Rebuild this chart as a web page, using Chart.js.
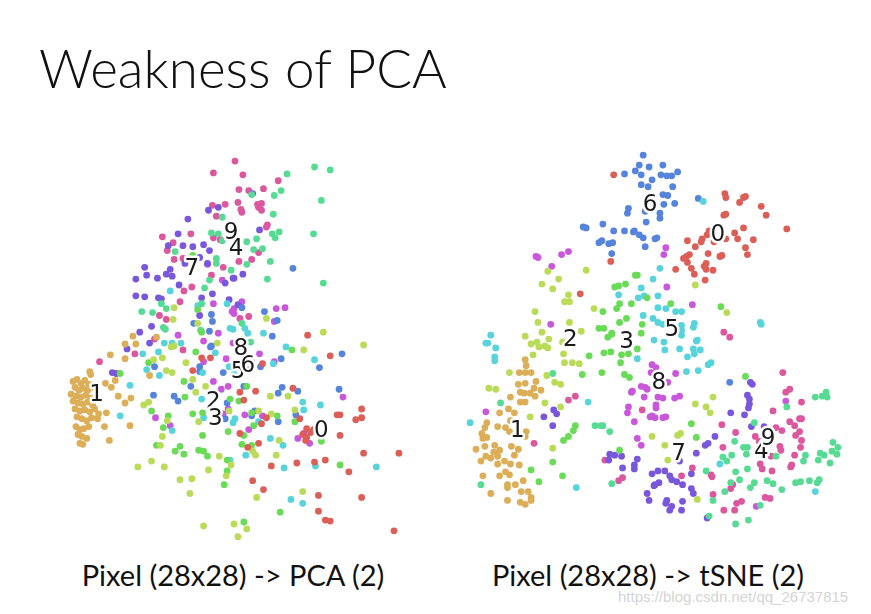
<!DOCTYPE html>
<html>
<head>
<meta charset="utf-8">
<script src="https://cdn.jsdelivr.net/npm/chart.js@4.4.1/dist/chart.umd.min.js"></script>
<style>
  body { margin: 0; background: #fff; width: 871px; height: 614px; overflow: hidden; position: relative; }
  .txt { position: absolute; white-space: nowrap; line-height: 1; color: #111; font-family: Lato, "Open Sans", sans-serif; }
  #title { left: 39px; top: 41px; font-size: 53px; font-weight: 300; }
  .caption { top: 560px; font-size: 29px; width: 400px; text-align: center; }
  #capLeft { left: 33px; }
  #capRight { left: 448px; }
  #mark { left: 618px; top: 589px; font-family: "Liberation Sans", Arial, sans-serif; font-size: 15px; color: #d4d4d4; }
  canvas { position: absolute; }
  #pcaChart { left: 50px; top: 140px; }
  #tsneChart { left: 450px; top: 140px; }
</style>
</head>
<body>
<div class="txt" id="title">Weakness of PCA</div>
<canvas id="pcaChart" width="370" height="410"></canvas>
<canvas id="tsneChart" width="410" height="410"></canvas>
<div class="txt caption" id="capLeft">Pixel (28x28) -&gt; PCA (2)</div>
<div class="txt caption" id="capRight">Pixel (28x28) -&gt; tSNE (2)</div>
<div class="txt" id="mark">https://blog.csdn.net/qq_26737815</div>
<script>
// digit classes and their colours (hls palette, 10 hues)
const digits = ['0', '1', '2', '3', '4', '5', '6', '7', '8', '9'];
const palette = ['#db5f57', '#dbae57', '#b9db57', '#69db57', '#57db94',
                 '#57d3db', '#5784db', '#7957db', '#c957db', '#db579e'];

// ---- PCA projection (component 1, component 2) ----
const pca0 = [[33.2,24.4],[25.6,20.8],[24.4,19.9],[24.0,20.7],[29.4,21.1],[26.7,18.1],[26.2,17.5],[30.1,18.0],[33.9,18.4],[34.2,18.4],[35.8,17.9],[36.4,18.1],[36.4,19.0],[30.4,16.4],[30.7,15.8],[30.8,16.1],[31.5,16.9],[34.2,16.3],[24.0,16.5],[24.8,15.1],[25.9,15.5],[31.6,13.6],[32.7,13.8],[29.8,13.5],[27.2,13.2],[35.1,12.6],[36.6,14.5],[40.2,14.5],[25.3,11.7],[26.4,10.8],[32.0,10.2],[36.4,10.0],[32.0,8.6],[32.7,7.7],[33.2,7.6],[39.7,6.6],[26.3,23.6],[19.2,22.9],[21.0,24.2],[20.1,24.2],[30.9,26.5],[30.8,17.0],[31.2,16.6]];
const pca1 = [[12.3,25.6],[13.4,25.6],[10.8,24.5],[12.3,24.1],[8.7,22.8],[8.8,22.5],[14.8,22.4],[11.3,21.9],[10.3,21.6],[10.9,21.2],[11.6,20.3],[12.9,20.1],[12.3,19.6],[10.4,18.6],[9.5,18.0],[10.2,17.2],[12.8,17.3],[10.7,15.8],[7.7,15.5],[13.1,26.4],[15.5,26.3],
  [7.0,21.8],[7.4,22.0],[7.8,21.6],[8.2,21.9],[8.6,21.5],[7.2,21.2],[7.6,20.9],[8.0,21.1],[8.5,20.9],[9.0,21.2],[6.8,20.5],[7.3,20.3],[7.8,20.2],[8.3,20.4],[8.8,20.1],[7.0,19.8],[7.5,19.6],[8.0,19.5],[8.5,19.7],[9.0,19.4],[7.2,19.0],[7.7,18.8],[8.2,18.9],[8.7,18.7],[9.2,19.0],[9.6,18.5],[7.4,18.2],[7.9,18.0],[8.4,17.8],[8.9,18.1],[7.3,17.2],[7.7,16.9],[8.1,17.0],[8.6,17.2],[7.5,16.4],[7.9,16.2],[8.4,16.0],[8.0,15.4]];
const pca2 = [[17.3,29.3],[17.2,28.1],[19.7,27.7],[21.7,25.7],[17.0,25.3],[26.7,28.2],[32.5,26.8],[30.5,25.0],[36.6,25.5],[15.2,24.0],[16.1,24.2],[16.5,22.9],[17.1,22.7],[18.5,23.7],[14.7,19.7],[14.2,19.4],[16.6,17.8],[16.1,16.2],[15.9,15.3],[15.0,13.7],[13.6,13.1],[16.3,13.1],[17.9,11.8],[19.1,11.9],[18.9,10.4],[20.8,12.8],[21.9,14.2],[22.6,12.2],[23.1,13.3],[20.3,7.1],[23.4,7.3],[17.3,25.4],[19.2,22.0],[19.8,17.7],[20.5,21.3],[19.5,20.7],[27.1,20.3],[28.9,20.3],[29.6,18.9],[25.9,18.8],[27.2,18.5],[22.9,18.8],[28.0,15.8],[25.3,14.7],[25.6,14.3],[27.7,14.3],[30.4,10.6],[25.7,10.0],[24.7,6.8],[23.8,6.0]];
const pca3 = [[19.2,34.6],[19.7,29.1],[20.1,26.8],[29.3,25.0],[11.8,22.6],[14.7,23.7],[15.0,18.8],[16.2,17.1],[16.7,18.3],[15.5,15.3],[17.9,15.2],[17.4,14.7],[18.3,14.4],[19.8,14.8],[20.3,14.7],[20.7,14.2],[20.2,16.3],[22.8,16.7],[22.7,13.8],[22.4,11.3],[22.7,12.7],[19.2,18.5],[20.2,18.6],[18.3,21.8],[19.5,24.8],[18.4,20.2],[24.7,21.3],[23.9,19.8],[23.0,20.0],[25.2,18.6],[27.8,18.3],[29.6,17.7],[25.4,17.3],[24.4,16.3],[25.2,15.3],[24.2,15.4],[34.2,13.3],[28.1,8.5],[24.4,7.5],[32.3,15.7]];
const pca4 = [[21.1,36.9],[21.8,36.8],[22.2,36.1],[21.6,34.3],[21.6,33.8],[23.1,33.1],[20.9,32.1],[20.4,31.3],[20.1,29.7],[14.0,28.9],[15.1,28.8],[16.5,29.2],[16.0,29.7],[16.2,27.3],[16.4,27.1],[20.0,27.0],[22.2,38.5],[17.4,35.0],[31.6,43.6],[33.2,43.3],[28.8,42.9],[28.2,41.2],[27.5,40.7],[25.2,40.8],[32.3,40.2],[27.4,38.8],[27.3,36.8],[28.0,37.0],[27.6,36.4],[31.5,36.8],[25.7,36.3],[24.7,36.0],[26.3,35.3],[25.4,35.2],[27.1,34.0],[24.7,33.7],[26.8,32.2],[32.5,31.8],[24.2,27.7],[25.1,25.8]];
const pca5 = [[16.9,31.0],[19.7,29.5],[22.7,29.7],[23.0,27.2],[16.3,25.7],[17.1,25.7],[18.0,25.7],[23.3,27.1],[24.8,26.7],[26.4,26.7],[28.7,25.3],[24.5,27.2],[14.1,24.6],[15.7,24.8],[14.5,23.0],[15.8,22.4],[12.8,21.4],[11.8,18.3],[17.1,16.8],[20.2,22.7],[20.3,18.1],[20.1,20.0],[21.5,24.7],[31.6,24.0],[30.4,19.7],[30.5,18.9],[32.2,19.4],[23.5,18.0],[23.3,17.6],[25.9,17.7],[27.1,16.0],[28.4,15.3],[24.6,14.3],[28.5,13.0],[31.7,13.2],[37.9,13.1],[29.2,9.8],[30.4,9.4],[23.0,13.8],[27.4,23.6],[22.9,23.3],[23.4,22.5]];
const pca6 = [[21.1,28.6],[21.2,27.9],[19.3,27.7],[20.9,26.9],[21.1,25.4],[29.4,33.3],[26.5,28.9],[27.3,26.4],[24.2,29.3],[27.8,28.0],[15.3,23.3],[15.2,20.4],[17.3,20.3],[17.7,19.8],[19.9,23.3],[19.9,22.8],[19.0,21.3],[21.0,25.3],[22.3,22.7],[22.5,18.0],[28.2,24.1],[32.1,23.2],[34.4,24.6],[34.1,21.0],[28.3,21.2],[27.9,20.6],[29.9,20.8],[29.7,18.4],[27.9,17.7],[25.5,18.8],[25.2,18.3],[24.4,21.3],[22.7,19.6],[26.1,23.3],[24.9,23.0],[25.2,23.8]];
const pca7 = [[20.8,39.2],[21.8,39.5],[18.7,38.3],[17.7,36.8],[18.2,35.6],[19.2,35.5],[20.3,35.7],[20.9,35.1],[19.9,34.4],[18.4,33.8],[20.7,33.8],[14.3,33.4],[16.9,33.2],[16.5,32.7],[17.1,32.5],[14.5,32.6],[13.4,32.2],[15.6,32.3],[17.8,31.6],[23.3,32.3],[22.5,31.8],[13.4,30.5],[14.3,30.4],[15.7,30.3],[16.0,30.2],[20.1,30.3],[21.2,30.7],[19.9,28.5],[15.0,27.4],[13.8,26.8],[14.8,25.7],[12.5,25.1],[25.3,40.9],[26.0,37.2],[24.3,32.7],[23.4,32.3],[22.9,30.1],[23.8,29.6],[11.0,22.7],[11.4,22.6],[16.7,35.6]];
const pca8 = [[20.7,33.7],[22.2,32.1],[21.3,29.7],[23.2,28.9],[21.8,26.7],[17.7,26.5],[20.3,25.9],[23.3,25.7],[24.2,29.9],[23.4,29.2],[23.4,28.7],[27.7,29.2],[28.6,29.3],[27.5,27.9],[15.4,18.1],[16.9,17.3],[21.3,21.8],[22.1,21.0],[22.8,21.3],[20.3,23.8],[22.3,18.5],[26.0,24.6],[27.5,23.8],[34.5,20.2],[24.5,18.4],[26.3,18.3],[24.9,16.9],[29.9,16.0],[30.5,16.5],[31.1,15.5],[22.8,19.0],[22.6,24.1]];
const pca9 = [[23.5,44.2],[21.3,43.0],[21.2,39.7],[22.5,39.8],[21.6,38.6],[16.1,36.5],[19.0,36.8],[17.2,35.9],[16.6,35.1],[17.3,34.2],[18.2,34.3],[21.3,36.4],[22.0,36.2],[22.3,33.4],[19.1,31.4],[18.3,31.0],[21.1,32.6],[17.9,29.9],[15.8,28.5],[16.5,28.1],[15.3,26.1],[18.2,25.0],[24.3,42.8],[27.9,42.2],[23.9,41.3],[24.9,41.2],[26.4,41.4],[23.8,40.0],[24.1,39.3],[24.2,39.0],[25.8,39.8],[26.2,39.9],[25.9,39.5],[26.2,39.2],[26.8,37.7],[26.7,37.5],[25.9,34.9],[25.2,34.2],[23.9,34.0],[24.9,28.4],[24.0,28.2],[9.7,23.8],[13.3,24.6]];
// where each digit's label sits in the PCA plot
const pcaLabels = [[32.3,16.8],[9.4,20.4],[21.3,19.7],[21.5,18.0],[23.6,35.3],[23.8,22.8],[24.8,23.4],[19.1,33.2],[24.1,25.1],[23.1,36.9]];

// ---- t-SNE embedding ----
const tsne0 = [[61.3,42.8],[61.0,34.0],[57.9,30.7],[72.6,40.9],[72.7,40.5],[74.5,40.5],[74.7,40.6],[74.1,40.0],[76.3,39.6],[76.8,38.7],[72.5,38.7],[72.7,38.8],[78.9,37.3],[71.0,37.1],[70.8,36.7],[73.6,36.9],[74.5,37.4],[73.9,36.3],[75.5,36.2],[72.7,36.3],[70.3,36.3],[70.2,36.0],[68.8,36.1],[69.6,35.5],[70.9,34.8],[72.3,34.6],[72.1,34.5],[74.7,35.4],[74.9,34.7],[69.0,34.7],[68.7,34.5],[68.4,34.3],[68.8,33.9],[70.7,33.8],[70.5,33.5],[70.7,33.2],[69.2,33.3],[71.4,33.1],[69.5,32.7],[67.6,33.2],[70.6,32.1],[71.5,36.0]];
const tsne1 = [[52.3,24.0],[52.4,23.4],[51.7,22.7],[52.3,22.7],[52.9,22.7],[53.4,21.8],[51.6,21.5],[52.3,21.6],[53.2,21.1],[53.9,20.9],[51.8,20.7],[52.2,20.6],[52.8,20.6],[53.3,20.3],[50.8,20.2],[51.8,19.7],[52.3,19.7],[50.6,19.0],[51.2,18.6],[49.7,18.6],[50.8,17.8],[48.4,17.6],[49.5,17.2],[50.3,17.1],[48.2,17.1],[50.7,16.7],[52.4,16.7],[47.9,16.5],[48.4,16.1],[48.0,16.0],[52.3,16.2],[50.9,15.2],[51.6,14.9],[48.2,15.2],[49.2,15.3],[47.3,14.9],[49.1,14.6],[49.7,14.8],[49.5,14.2],[48.3,14.2],[48.8,14.0],[51.2,14.3],[47.8,13.7],[50.2,13.7],[50.8,13.4],[51.7,13.3],[49.5,13.4],[50.3,12.6],[50.7,12.3],[49.7,12.2],[48.0,12.2],[52.1,11.7],[50.5,11.3],[50.5,11.0],[51.3,11.3],[51.9,10.6],[52.6,10.6],[48.8,10.4],[52.9,10.0],[52.9,9.7],[50.5,9.7],[51.8,9.5],[52.3,9.3]];
const tsne2 = [[54.6,33.0],[55.7,32.2],[58.5,33.1],[54.0,31.7],[55.1,31.2],[56.7,30.6],[56.3,29.9],[56.8,29.9],[59.3,29.2],[53.3,28.9],[53.6,27.8],[56.8,27.8],[54.0,26.8],[58.0,26.9],[52.3,26.4],[52.9,25.6],[53.5,25.8],[53.7,25.3],[54.3,25.4],[54.7,26.1],[56.1,25.8],[53.1,24.5],[56.2,24.6],[54.6,25.2],[56.3,23.7],[57.1,23.7],[57.8,23.6],[50.7,22.7],[54.5,22.4],[55.3,21.7],[55.9,21.5],[48.6,21.1],[49.3,21.0],[54.3,19.6],[55.9,19.2],[52.8,18.2],[55.1,15.0],[69.6,31.6],[72.8,28.8],[69.6,19.5],[70.7,19.2],[71.4,20.2],[71.1,18.6],[65.2,16.2],[67.8,16.3],[68.1,16.5],[66.5,15.3],[66.8,13.8],[69.8,9.8]];
const tsne3 = [[63.5,32.6],[63.7,32.6],[62.5,31.7],[61.4,31.4],[61.8,31.5],[61.9,29.7],[63.1,29.7],[61.6,29.2],[60.2,28.9],[62.6,28.2],[61.9,27.8],[59.8,27.2],[60.3,27.2],[64.2,27.6],[64.1,26.7],[61.1,26.7],[64.7,30.3],[67.1,29.7],[72.2,29.4],[58.8,24.4],[58.1,22.5],[60.1,22.7],[60.3,24.7],[61.0,24.8],[60.7,26.3],[61.1,26.6],[62.0,23.7],[62.1,24.5],[62.8,24.6],[62.4,22.5],[62.9,22.2],[63.7,25.1],[57.4,17.3],[57.2,16.8],[56.7,16.2],[56.2,15.8],[61.9,14.8],[55.1,13.6],[52.9,12.8],[56.1,12.2],[53.7,11.6],[74.7,22.3],[69.2,17.5],[69.7,16.1]];
const tsne4 = [[55.1,22.6],[49.8,19.6],[59.4,17.3],[60.0,17.3],[60.2,17.3],[60.9,16.7],[47.8,11.3],[61.1,11.4],[73.6,15.7],[74.5,15.1],[74.9,15.1],[74.8,14.4],[73.3,14.3],[72.4,14.1],[72.8,13.7],[75.6,17.6],[77.8,14.2],[70.7,12.7],[73.7,12.6],[74.9,12.9],[73.2,11.5],[74.1,11.8],[75.6,11.5],[75.2,11.0],[76.9,11.7],[77.5,11.4],[78.4,10.8],[72.6,10.6],[71.4,9.7],[76.2,9.2],[73.7,7.3],[75.0,7.7],[78.9,19.2],[81.8,20.2],[82.5,20.3],[82.9,20.7],[83.0,20.2],[79.8,11.5],[80.3,11.6],[81.2,11.7],[82.0,11.5],[82.2,11.8],[80.8,14.3],[80.6,13.7],[82.3,14.5],[82.7,14.3],[82.1,13.8],[83.6,15.6],[84.1,15.1],[83.5,14.7],[84.0,14.4],[83.3,13.5],[71.0,8.1]];
const tsne5 = [[61.8,30.6],[48.8,26.5],[64.1,31.3],[65.3,32.2],[63.8,30.3],[64.4,30.5],[64.3,28.5],[65.3,28.2],[70.4,40.1],[66.0,33.3],[65.8,30.5],[65.8,29.3],[66.6,29.2],[67.6,28.9],[68.2,28.9],[65.8,27.8],[66.3,27.6],[68.2,27.5],[68.2,27.0],[68.2,26.5],[69.5,27.7],[69.4,27.3],[76.2,27.8],[76.3,27.6],[69.8,26.0],[65.4,26.0],[66.4,25.8],[66.5,25.0],[68.0,25.1],[69.7,25.9],[69.4,25.1],[70.1,25.0],[69.5,24.6],[68.8,24.3],[71.2,23.7],[70.9,23.5],[69.9,22.9],[68.7,22.8],[63.7,24.1],[58.7,19.7],[48.3,25.7],[48.5,25.7],[49.3,25.2],[49.2,24.3],[49.2,23.9],[46.7,17.6],[57.5,11.0],[72.1,13.4],[81.8,10.6]];
const tsne6 = [[64.3,44.8],[63.9,43.8],[64.9,43.6],[63.5,43.2],[62.4,42.9],[64.1,42.8],[65.2,42.3],[64.1,41.8],[64.8,41.6],[62.8,39.4],[62.7,38.9],[64.5,39.1],[64.6,38.0],[60.2,37.8],[58.2,37.5],[58.5,37.4],[61.3,37.1],[62.4,37.1],[63.3,37.0],[63.4,37.1],[63.9,36.7],[64.3,36.4],[60.1,36.1],[59.8,35.9],[60.8,35.8],[61.2,35.9],[61.1,34.8],[64.5,35.5],[65.5,36.3],[66.3,43.8],[67.8,43.1],[66.1,42.8],[66.7,42.7],[67.2,42.7],[67.3,41.6],[66.3,40.8],[66.8,40.7],[67.5,39.9],[66.4,39.8],[66.0,38.9],[66.0,38.4],[65.7,36.4],[69.9,40.4],[73.1,21.7]];
const tsne7 = [[55.2,18.9],[55.5,18.5],[54.2,18.2],[55.1,17.3],[60.9,14.4],[61.4,14.3],[62.1,14.2],[60.8,13.8],[63.7,13.9],[63.4,13.3],[63.4,12.9],[62.2,13.0],[65.2,12.4],[65.4,11.2],[64.7,10.4],[64.9,9.7],[75.2,21.7],[75.4,21.5],[74.9,20.4],[75.1,20.0],[75.1,19.5],[75.0,19.1],[73.2,18.6],[74.6,18.4],[76.6,17.2],[75.3,17.2],[71.6,16.2],[70.9,15.5],[70.6,15.3],[69.7,14.5],[68.0,13.7],[65.8,12.7],[66.5,12.7],[67.0,12.2],[67.2,11.8],[67.7,11.6],[69.2,12.4],[65.9,11.5],[65.5,11.3],[68.3,11.3],[69.2,10.9],[69.4,10.4],[66.7,9.7],[66.6,9.4],[68.3,9.6],[67.2,9.1],[67.0,8.7],[68.2,8.7],[70.8,7.9]];
const tsne8 = [[53.4,34.5],[53.6,34.4],[56.0,34.7],[56.7,35.0],[55.0,33.5],[54.9,27.6],[66.6,35.4],[66.4,34.7],[66.7,31.4],[69.3,29.6],[63.2,20.8],[63.1,20.7],[64.1,21.3],[64.5,21.2],[64.7,21.0],[65.1,22.7],[64.4,20.2],[62.8,19.2],[62.7,18.6],[65.2,18.3],[63.4,17.7],[63.7,16.0],[64.1,15.3],[48.3,18.7],[65.6,19.4],[65.2,23.5],[65.6,23.2],[67.6,22.6],[66.8,21.7],[65.8,20.2],[66.3,20.1],[67.5,20.1],[68.0,20.3],[65.6,19.1],[65.0,18.2],[65.5,18.1],[66.3,18.1],[66.6,18.2],[78.8,19.8],[75.8,9.1]];
const tsne9 = [[56.7,19.9],[57.4,20.3],[53.2,15.5],[64.2,18.9],[60.4,13.8],[61.8,11.7],[62.2,12.0],[72.5,26.8],[73.1,26.3],[78.5,22.7],[78.8,20.7],[79.2,21.0],[80.4,19.7],[77.5,18.8],[72.3,17.4],[73.7,16.6],[79.2,17.7],[80.2,18.0],[80.4,18.0],[79.7,17.3],[77.8,17.1],[78.4,16.8],[77.4,16.3],[75.7,16.2],[79.8,16.3],[80.2,16.7],[80.4,15.8],[76.1,15.7],[78.2,15.2],[78.3,14.8],[80.3,15.1],[77.3,14.2],[79.7,14.3],[72.4,15.1],[76.2,13.4],[76.4,12.9],[77.4,12.7],[79.3,13.1],[79.4,13.3],[69.3,13.0],[68.2,12.2],[71.2,12.3],[71.3,12.1],[73.2,10.9],[73.4,11.3],[71.4,10.3],[74.3,9.6],[73.8,9.4],[76.7,10.0],[77.2,9.9],[72.5,8.7],[73.6,8.7]];
const tsneLabels = [[71.9,36.7],[51.5,16.8],[56.9,26.0],[62.6,25.8],[76.3,14.6],[67.2,27.0],[65.0,39.7],[67.9,14.4],[65.9,21.6],[77.0,15.9]];

// draws the digit name over each cluster, white outline like matplotlib path effects
const digitLabels = {
    id: 'digitLabels',
    afterDatasetsDraw(chart, args, opts) {
        const ctx = chart.ctx;
        const xs = chart.scales.x, ys = chart.scales.y;
        ctx.save();
        ctx.font = '23px "DejaVu Sans", sans-serif';
        ctx.textAlign = 'center';
        ctx.textBaseline = 'middle';
        ctx.lineJoin = 'round';
        opts.positions.forEach((p, i) => {
            const px = xs.getPixelForValue(p[0]);
            const py = ys.getPixelForValue(p[1]);
            ctx.lineWidth = 5;
            ctx.strokeStyle = '#fff';
            ctx.strokeText(digits[i], px, py);
            ctx.fillStyle = '#1a1a1a';
            ctx.fillText(digits[i], px, py);
        });
        ctx.restore();
    }
};

function makeScatter(id, groups, labelPos, xMin, xMax, yMin, yMax) {
    return new Chart(document.getElementById(id), {
        type: 'scatter',
        data: {
            datasets: groups.map((pts, i) => ({
                label: digits[i],
                data: pts.map(p => ({ x: p[0], y: p[1] })),
                backgroundColor: palette[i],
                borderWidth: 0,
                pointRadius: 3.4,
                pointHoverRadius: 3.4,
                clip: false
            }))
        },
        options: {
            responsive: false,
            animation: false,
            layout: { padding: 0 },
            scales: {
                x: { type: 'linear', display: false, min: xMin, max: xMax },
                y: { type: 'linear', display: false, min: yMin, max: yMax }
            },
            plugins: {
                legend: { display: false },
                tooltip: { enabled: false },
                digitLabels: { positions: labelPos }
            }
        },
        plugins: [digitLabels]
    });
}

makeScatter('pcaChart', [pca0, pca1, pca2, pca3, pca4, pca5, pca6, pca7, pca8, pca9], pcaLabels, 5, 42, 5, 46);
makeScatter('tsneChart', [tsne0, tsne1, tsne2, tsne3, tsne4, tsne5, tsne6, tsne7, tsne8, tsne9], tsneLabels, 45, 86, 5, 46);
</script>
</body>
</html>
